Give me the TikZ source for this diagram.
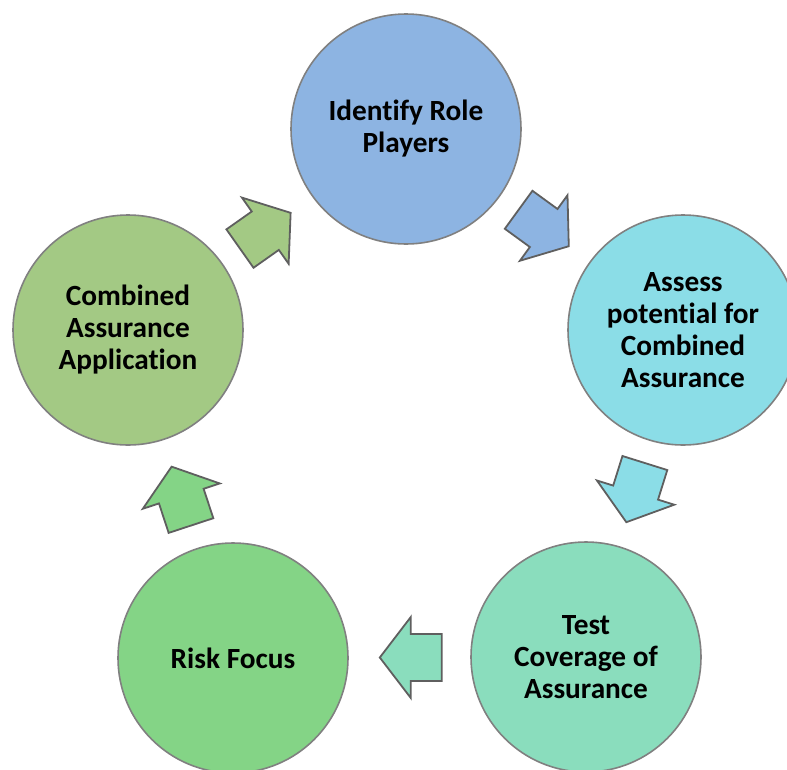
\documentclass[tikz,border=0pt]{standalone}
\usepackage{fontspec}
\setmainfont{Carlito}[Ligatures={NoCommon,NoContextual}]
\definecolor{cblue}{RGB}{141,180,226}
\definecolor{ccyan}{RGB}{139,221,231}
\definecolor{cmint}{RGB}{138,221,189}
\definecolor{cgreen}{RGB}{132,212,134}
\definecolor{colive}{RGB}{163,201,132}
\definecolor{circborder}{RGB}{128,128,128}
\definecolor{arrborder}{RGB}{95,95,95}
\tikzset{
  stage/.style={circle, draw=circborder, line width=1.6pt, minimum size=230pt,
    inner sep=0pt, align=center, text=black,
    font=\fontsize{29.3}{32}\selectfont\bfseries},
  blockarrow/.style={draw=arrborder, line width=1.8pt, line join=miter},
  barrow/.pic={\draw[blockarrow, pic actions] (-31,-23.5) -- (0,-23.5) -- (0,-40.5)
     -- (31,0) -- (0,40.5) -- (0,23.5) -- (-31,23.5) -- cycle;}
}
\begin{document}
\begin{tikzpicture}[x=1pt,y=-1pt]
\useasboundingbox (0,0) rectangle (787,769);
\node[stage, fill=cblue]  (identify) at (406,129) {Identify Role\\Players};
\node[stage, fill=ccyan]  (assess)   at (683,330) {Assess\\potential for\\Combined\\Assurance};
\node[stage, fill=cmint]  (test)     at (586,657) {Test\\Coverage of\\Assurance};
\node[stage, fill=cgreen] (risk)     at (233,658) {Risk Focus};
\node[stage, fill=colive] (combined) at (128,330) {Combined\\Assurance\\Application};
\pic[fill=cblue, rotate=-36] at (543.7,228) {barrow};
\pic[fill=ccyan, rotate=-107.4] at (635.6,492.6) {barrow};
\pic[fill=cmint, rotate=180] at (410.8,657.5) {barrow};
\pic[fill=cgreen, rotate=108.2] at (181.3,496.1) {barrow};
\pic[fill=colive, rotate=35.2] at (265.3,230.7) {barrow};
\end{tikzpicture}
\end{document}
